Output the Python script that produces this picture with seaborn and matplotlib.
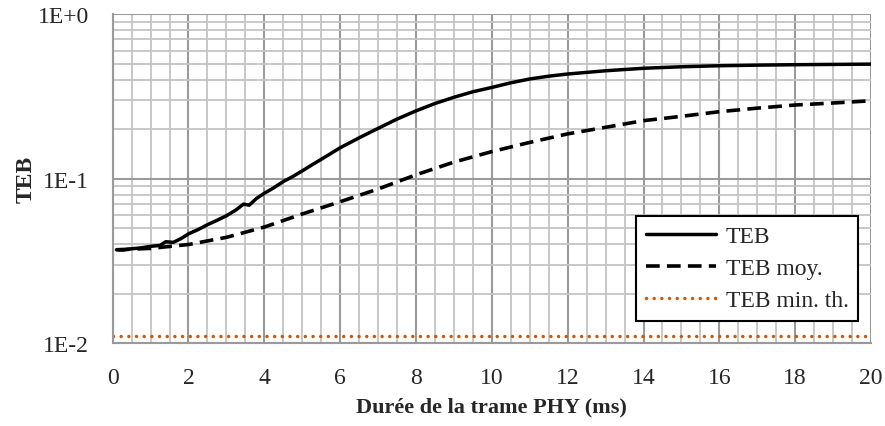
import numpy as np
import pandas as pd
import matplotlib
matplotlib.use("Agg")
import matplotlib.pyplot as plt
import seaborn as sns
from matplotlib.ticker import FixedLocator, MultipleLocator, LogLocator, NullFormatter

# donnees
x_teb = [0.1, 0.25, 0.5, 0.75, 1.0, 1.25, 1.4, 1.6, 1.8, 2.0, 2.25, 2.5, 2.75, 3.0,
         3.25, 3.45, 3.6, 3.8, 4.0, 4.25, 4.5, 4.75, 5.0, 5.25, 5.5, 5.75, 6.0,
         6.5, 7.0, 7.5, 8.0, 8.5, 9.0, 9.5, 10, 10.5, 11, 11.5, 12, 13, 14, 15,
         16, 17, 18, 19, 20]
teb = [0.0370, 0.0368, 0.0375, 0.0380, 0.0388, 0.0393, 0.0414, 0.0410, 0.0432,
       0.0462, 0.0490, 0.0525, 0.0558, 0.0595, 0.0645, 0.0700, 0.0690, 0.0760,
       0.0815, 0.0880, 0.0960, 0.1030, 0.1115, 0.1210, 0.1310, 0.1420, 0.1540,
       0.1770, 0.2020, 0.2300, 0.2580, 0.2860, 0.3120, 0.3370, 0.3580, 0.3820,
       0.4030, 0.4190, 0.4320, 0.4520, 0.4680, 0.4780, 0.4850, 0.4890, 0.4920,
       0.4940, 0.4960]

x_moy = [0.1, 1, 2, 3, 4, 5, 6, 7, 8, 9, 10, 11, 12, 13, 14, 15, 16, 17, 18, 19, 20]
teb_moy = [0.0370, 0.0377, 0.0398, 0.0440, 0.0508, 0.0610, 0.0724, 0.0865, 0.1055,
           0.1260, 0.1460, 0.1660, 0.1870, 0.2050, 0.2250, 0.2390, 0.2550, 0.2680,
           0.2800, 0.2880, 0.2970]

x_min = [0, 20]
teb_min = [0.0111, 0.0111]

y_ticks = [0.01, 0.1, 1]
y_labels = ["1E-2", "1E-1", "1E+0"]

sns.set_style("white")
plt.rcParams['font.family'] = ['Liberation Serif', 'DejaVu Serif']

df1 = pd.DataFrame({"x": x_teb, "y": teb})
df2 = pd.DataFrame({"x": x_moy, "y": teb_moy})
df3 = pd.DataFrame({"x": x_min, "y": teb_min})

fig = plt.figure(figsize=(8.85, 4.27), dpi=100)
ax = fig.add_axes([0.1273, 0.1937, 0.8569, 0.7712])

sns.lineplot(data=df1, x="x", y="y", ax=ax, color="black", lw=2.5, label="TEB")
sns.lineplot(data=df2, x="x", y="y", ax=ax, color="black", lw=2.6, label="TEB moy.")
ax.lines[-1].set_dashes([3.8, 2])
sns.lineplot(data=df3, x="x", y="y", ax=ax, color="#c55a11", lw=2.5, label="TEB min. th.")
ax.lines[-1].set_linestyle((0, (0.01, 2.2)))
ax.lines[-1].set_dash_capstyle("round")

ax.set_yscale("log")
ax.set_xlim(0, 20)
ax.set_ylim(0.01, 1)

ax.xaxis.set_major_locator(MultipleLocator(2))
ax.xaxis.set_minor_locator(MultipleLocator(0.5))
ax.yaxis.set_major_locator(FixedLocator(y_ticks))
ax.set_yticklabels(y_labels)
ax.yaxis.set_minor_locator(LogLocator(base=10, subs=np.arange(2, 10)))
ax.yaxis.set_minor_formatter(NullFormatter())

ax.grid(which="minor", color="#c4c4c4", lw=1.3)
ax.grid(which="major", color="#9a9a9a", lw=1.5)
ax.set_axisbelow(True)

for s in ["top", "right"]:
    ax.spines[s].set_visible(False)
for s in ["left", "bottom"]:
    ax.spines[s].set_color("#9a9a9a")
    ax.spines[s].set_linewidth(1.5)

ax.tick_params(axis="y", which="major", length=6, width=1.5, color="#9a9a9a",
               pad=11, labelsize=17)
ax.tick_params(axis="y", which="minor", length=0)
ax.tick_params(axis="x", which="both", length=0, pad=17, labelsize=17)

ax.set_xlabel("Durée de la trame PHY (ms)", fontsize=16, fontweight="bold", labelpad=6)
ax.set_ylabel("TEB", fontsize=17, fontweight="bold", labelpad=1)

leg = ax.legend(loc="lower right", bbox_to_anchor=(0.983, 0.068), borderaxespad=0,
                fancybox=False, edgecolor="black", fontsize=17, handlelength=3.0,
                labelspacing=0.45, handletextpad=0.4, borderpad=0.4, framealpha=1)
leg.get_frame().set_linewidth(1.5)

fig.savefig("out.png", dpi=100)
